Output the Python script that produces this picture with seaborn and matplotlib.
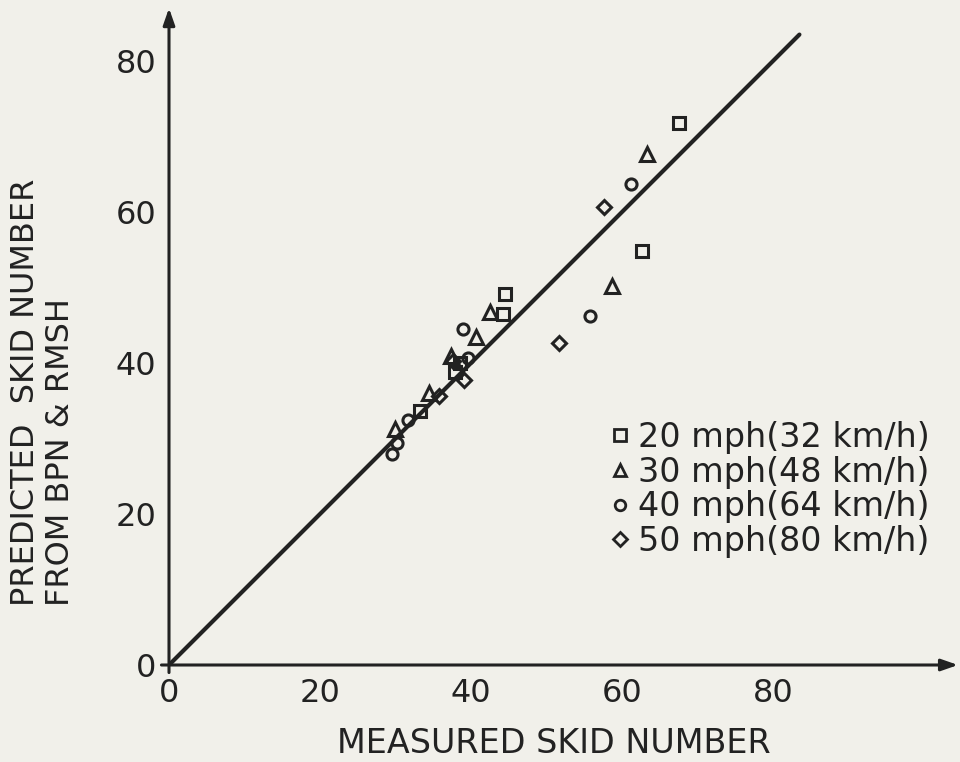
import matplotlib
matplotlib.use("Agg")
import matplotlib.pyplot as plt
from matplotlib.lines import Line2D
import seaborn as sns
import pandas as pd

# ---- data ----
sq_x = [67.5, 62.6, 44.5, 44.2, 38.5, 37.9, 33.2]
sq_y = [71.8, 54.8, 49.2, 46.5, 40.0, 38.8, 33.6]
tri_x = [63.3, 58.7, 42.5, 40.7, 37.3, 34.5, 29.9]
tri_y = [67.7, 50.2, 46.7, 43.4, 40.9, 36.0, 31.2]
cir_x = [61.2, 55.8, 39.0, 39.6, 31.7, 30.2, 29.5]
cir_y = [63.7, 46.2, 44.5, 40.6, 32.4, 29.4, 27.9]
dia_x = [57.6, 51.7, 39.1, 37.6, 35.8]
dia_y = [60.6, 42.6, 37.8, 40.3, 35.6]
labels = ["20 mph(32 km/h)", "30 mph(48 km/h)", "40 mph(64 km/h)", "50 mph(80 km/h)"]
line_x = [0, 83.5]
line_y = [0, 83.5]
xticks = [0, 20, 40, 60, 80]
yticks = [0, 20, 40, 60, 80]
xlabel = "MEASURED SKID NUMBER"
ylabel = "PREDICTED  SKID NUMBER\nFROM BPN & RMSH"

rows = []
for xs, ys, lab in [(sq_x, sq_y, labels[0]), (tri_x, tri_y, labels[1]),
                    (cir_x, cir_y, labels[2]), (dia_x, dia_y, labels[3])]:
    for a, b in zip(xs, ys):
        rows.append({"x": a, "y": b, "speed": lab})
df = pd.DataFrame(rows)

sns.set_style("white")
plt.rcParams["font.family"] = ["DejaVu Sans"]
bg = "#f1f0ea"
ink = "#222222"
fig = plt.figure(figsize=(9.6, 7.62), dpi=100, facecolor=bg)
W, H = 960, 762
x0px, y0px = 169, 665
ppu = 7.55
xmax, ymax = 104.5, 87
axw, axh = xmax * ppu, ymax * ppu
ax = fig.add_axes([x0px / W, (H - y0px) / H, axw / W, axh / H])
ax.set_facecolor(bg)
ax.set_xlim(0, xmax)
ax.set_ylim(0, ymax)

sns.lineplot(x=line_x, y=line_y, ax=ax, color=ink, linewidth=3.0, zorder=2)

markers = {labels[0]: "s", labels[1]: "^", labels[2]: "o", labels[3]: "D"}
sizes = {labels[0]: 8.5, labels[1]: 9.5, labels[2]: 8, labels[3]: 7.5}
for lab in labels:
    sub = df[df.speed == lab]
    ax.plot(sub.x, sub.y, linestyle="none", marker=markers[lab], markersize=sizes[lab],
            markerfacecolor="none", markeredgecolor=ink, markeredgewidth=2.2, zorder=3)

for s in ax.spines.values():
    s.set_visible(False)

# axes with arrows
ax.annotate("", xy=(xmax, 0), xytext=(-1, 0), xycoords="data",
            arrowprops=dict(arrowstyle="-|>,head_length=1.0,head_width=0.35", color=ink,
                            lw=2.2, shrinkA=0, shrinkB=0), annotation_clip=False)
ax.annotate("", xy=(0, ymax), xytext=(0, -1), xycoords="data",
            arrowprops=dict(arrowstyle="-|>,head_length=1.0,head_width=0.35", color=ink,
                            lw=2.2, shrinkA=0, shrinkB=0), annotation_clip=False)

ax.set_xticks(xticks)
ax.set_yticks(yticks)
ax.set_xticklabels([str(t) for t in xticks])
ax.set_yticklabels([str(t) for t in yticks])
ax.tick_params(axis="both", direction="out", length=7, width=2, color=ink,
               labelsize=23, labelcolor=ink, pad=2)

ax.text((554 - x0px) / axw, -(760 - y0px) / axh, xlabel, transform=ax.transAxes,
        fontsize=24, color=ink, ha="center", va="bottom")
ax.text((43 - x0px) / axw, (y0px - 606) / axh, ylabel, transform=ax.transAxes,
        fontsize=23, color=ink, rotation=90, ha="center", va="bottom",
        multialignment="left", linespacing=1.15)

handles = [Line2D([], [], linestyle="none", marker=markers[l], markersize=sizes[l] * 0.95,
                  markerfacecolor="none", markeredgecolor=ink, markeredgewidth=2.0)
           for l in labels]
leg = ax.legend(handles, labels, loc="upper left",
                bbox_to_anchor=((608 - x0px) / axw, (y0px - 421) / axh),
                frameon=False, fontsize=24, handlelength=0.7, handletextpad=0.2,
                labelspacing=0.05, borderpad=0, borderaxespad=0)
for t in leg.get_texts():
    t.set_color(ink)

fig.savefig("out.png", dpi=100, facecolor=bg)
